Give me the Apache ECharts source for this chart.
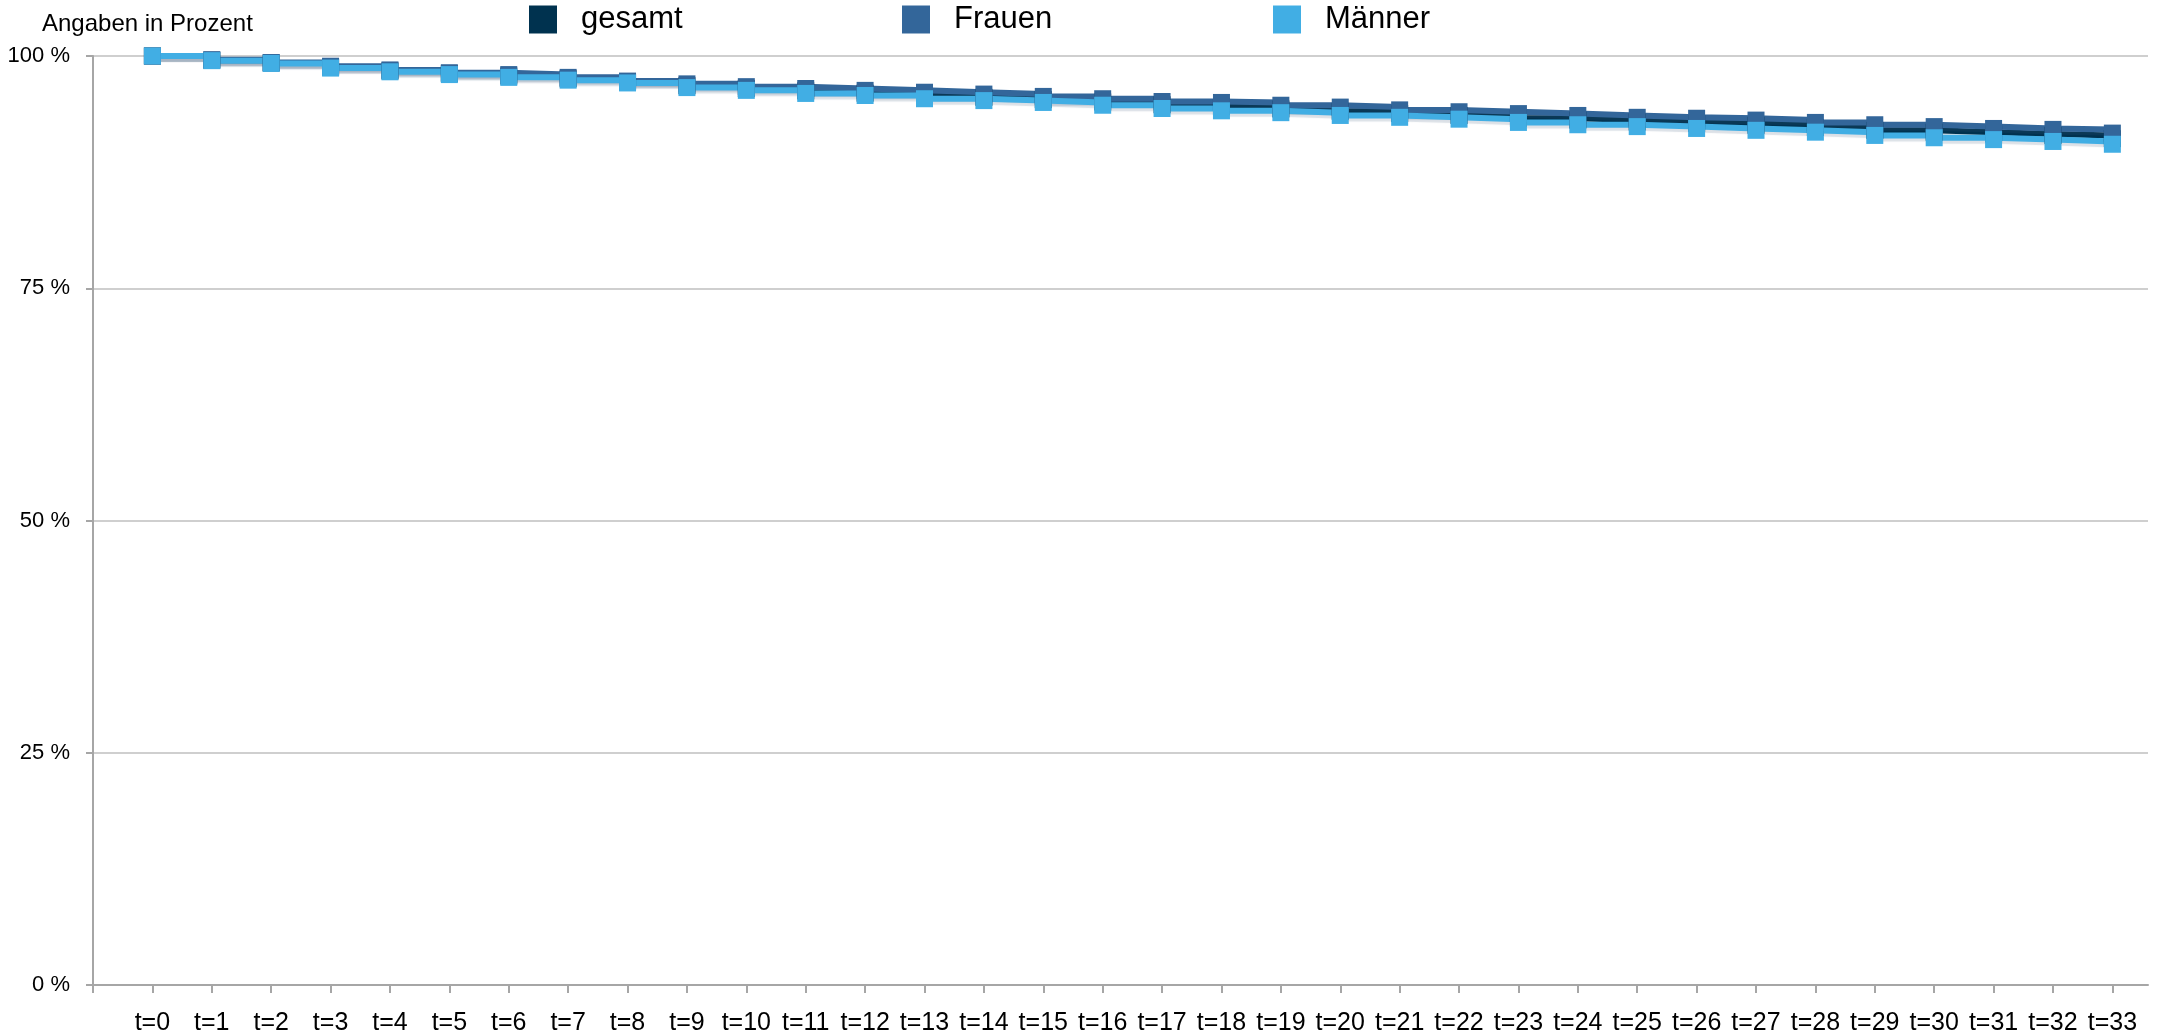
<!DOCTYPE html>
<html><head><meta charset="utf-8">
<script src="https://cdn.jsdelivr.net/npm/echarts@6/dist/echarts.min.js"></script>
<style>html,body{margin:0;padding:0;background:#fff}#c{width:2170px;height:1036px}</style>
</head><body><div id="c"></div>
<script>
const categories = ['t=0','t=1','t=2','t=3','t=4','t=5','t=6','t=7','t=8','t=9','t=10','t=11','t=12','t=13','t=14','t=15','t=16','t=17','t=18','t=19','t=20','t=21','t=22','t=23','t=24','t=25','t=26','t=27','t=28','t=29','t=30','t=31','t=32','t=33'];
const gesamt = [100, 99.55, 99.25, 98.8, 98.4, 98.1, 97.85, 97.55, 97.2, 96.8, 96.5, 96.25, 96.0, 95.75, 95.55, 95.3, 95.05, 94.75, 94.55, 94.3, 94.05, 93.8, 93.6, 93.3, 93.1, 92.9, 92.75, 92.55, 92.3, 92.0, 91.8, 91.6, 91.45, 91.1];
const frauen = [100, 99.6, 99.3, 98.9, 98.5, 98.2, 98.0, 97.7, 97.3, 97.0, 96.7, 96.5, 96.3, 96.1, 95.9, 95.65, 95.4, 95.1, 95.0, 94.7, 94.5, 94.2, 94.0, 93.8, 93.6, 93.4, 93.3, 93.1, 92.85, 92.6, 92.4, 92.2, 92.1, 91.7];
const maenner = [100, 99.5, 99.2, 98.7, 98.3, 98.0, 97.7, 97.4, 97.1, 96.6, 96.3, 95.97, 95.75, 95.4, 95.2, 95.0, 94.7, 94.35, 94.1, 93.9, 93.6, 93.4, 93.2, 92.85, 92.6, 92.4, 92.2, 92.0, 91.8, 91.45, 91.2, 91.0, 90.8, 90.5];
const yTicks = [0, 25, 50, 75, 100];
const seriesNames = ['gesamt', 'Frauen', 'Männer'];
const colors = ['#00324F', '#33669A', '#41AEE4'];

const chart = echarts.init(document.getElementById('c'), null, {renderer: 'canvas'});
const font = '"Liberation Sans", Arial, sans-serif';
const tickIdx = [-1].concat(categories.map((_, i) => i));

function mkSeries(name, vals, color) {
  return {
    name: name,
    type: 'line',
    step: 'end',
    data: vals.map((v, i) => [i, v]),
    symbol: 'rect',
    symbolSize: 17,
    itemStyle: {color: color},
    lineStyle: {color: color, width: 6, shadowColor: 'rgba(60,90,120,0.18)', shadowBlur: 1, shadowOffsetY: 3},
    emphasis: {disabled: true}
  };
}

function mkLegend(name, left) {
  return {
    data: [name],
    left: left,
    top: 4,
    padding: 0,
    icon: 'rect',
    itemWidth: 28,
    itemHeight: 28,
    itemGap: 0,
    selectedMode: false,
    textStyle: {fontFamily: font, fontSize: 31, color: '#000', padding: [0, 0, 0, 19]}
  };
}

chart.setOption({
  animation: false,
  backgroundColor: '#fff',
  color: colors,
  graphic: [{
    type: 'text', x: 42, y: 12,
    style: {text: 'Angaben in Prozent', font: '24px ' + font, fill: '#000', textAlign: 'left', textVerticalAlign: 'top'}
  }],
  legend: [mkLegend(seriesNames[0], 529), mkLegend(seriesNames[1], 902), mkLegend(seriesNames[2], 1273)],
  grid: {left: 93, right: 22, top: 56, bottom: 50, containLabel: false},
  xAxis: {
    type: 'value', min: -1, max: 33.6, interval: 1,
    splitLine: {show: false},
    axisLine: {show: true, onZero: false, lineStyle: {color: '#A6A6A6', width: 2}},
    axisTick: {show: true, length: 8, inside: false, customValues: tickIdx, lineStyle: {color: '#A6A6A6', width: 2}},
    axisLabel: {
      customValues: categories.map((_, i) => i),
      margin: 26, fontFamily: font, fontSize: 25, color: '#000',
      formatter: function (v) {
        const i = Math.round(v);
        return (Math.abs(v - i) < 1e-6 && categories[i] !== undefined) ? categories[i] : '';
      }
    }
  },
  yAxis: {
    type: 'value', min: yTicks[0], max: yTicks[yTicks.length - 1], interval: 25,
    axisLine: {show: true, onZero: false, lineStyle: {color: '#A6A6A6', width: 2}},
    axisTick: {show: true, length: 7, lineStyle: {color: '#A6A6A6', width: 2}},
    splitLine: {show: true, lineStyle: {color: '#BFBFBF', width: 1.5}},
    axisLabel: {formatter: '{value} %', margin: 23, fontFamily: font, fontSize: 22, color: '#000'}
  },
  series: [
    mkSeries(seriesNames[0], gesamt, colors[0]),
    mkSeries(seriesNames[1], frauen, colors[1]),
    mkSeries(seriesNames[2], maenner, colors[2])
  ]
});
</script>
</body></html>
